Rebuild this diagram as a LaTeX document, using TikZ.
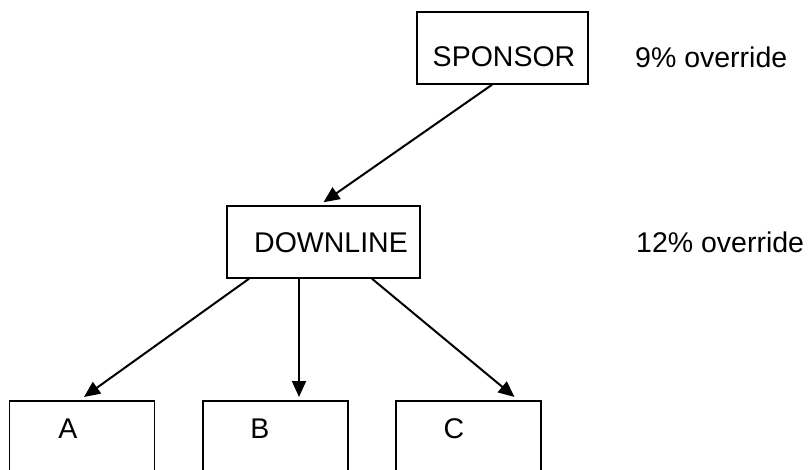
\documentclass[tikz,border=0pt]{standalone}
\usepackage{fontspec}
\setmainfont{Liberation Sans}
\usetikzlibrary{arrows.meta}
\tikzset{
  boxnode/.style={draw=black, line width=1.5pt, rectangle, inner sep=0pt},
  txt/.style={inner sep=0pt, anchor=base, font=\fontsize{28.5}{34}\selectfont},
  txtw/.style={inner sep=0pt, anchor=base west, font=\fontsize{28.5}{34}\selectfont},
  arr/.style={line width=2pt, -{Triangle[length=16pt,width=14pt]}}
}
\begin{document}
\begin{tikzpicture}[x=1pt,y=-1pt]
\useasboundingbox (0,0) rectangle (811,470);
\clip (0,0) rectangle (811,470);
\fill[white] (0,0) rectangle (811,470);
% boxes
\node[boxnode, minimum width=171pt, minimum height=72pt] (SP) at (502.5,48) {};
\node[boxnode, minimum width=193pt, minimum height=72pt] (DL) at (323.5,242) {};
\node[boxnode, minimum width=145pt, minimum height=80pt, anchor=north] (A) at (82,400) {};
\node[boxnode, minimum width=145pt, minimum height=80pt, anchor=north] (B) at (275.5,400) {};
\node[boxnode, minimum width=145pt, minimum height=80pt, anchor=north] (C) at (468.5,400) {};
% texts
\node[txt] (SPt) at (504,67) {SPONSOR};
\node[txt] (DLt) at (331,253) {DOWNLINE};
\node[txt] (At) at (68,438) {A};
\node[txt] (Bt) at (260,438) {B};
\node[txt] (Ct) at (454,438) {C};
\node[txtw] (o9) at (635,68) {9\% override};
\node[txtw] (o12) at (636,253) {12\% override};
% connectors
\draw[arr] ([xshift=-10.5pt]SP.south) -- ([yshift=3pt]DL.north);
\draw[arr] ([xshift=-74.5pt]DL.south) -- ([xshift=2pt,yshift=3pt]A.north);
\draw[arr] ([xshift=-24.5pt]DL.south) -- ([xshift=23.5pt,yshift=3pt]B.north);
\draw[arr] ([xshift=48.5pt]DL.south) -- ([xshift=46pt,yshift=3pt]C.north);
\end{tikzpicture}
\end{document}
